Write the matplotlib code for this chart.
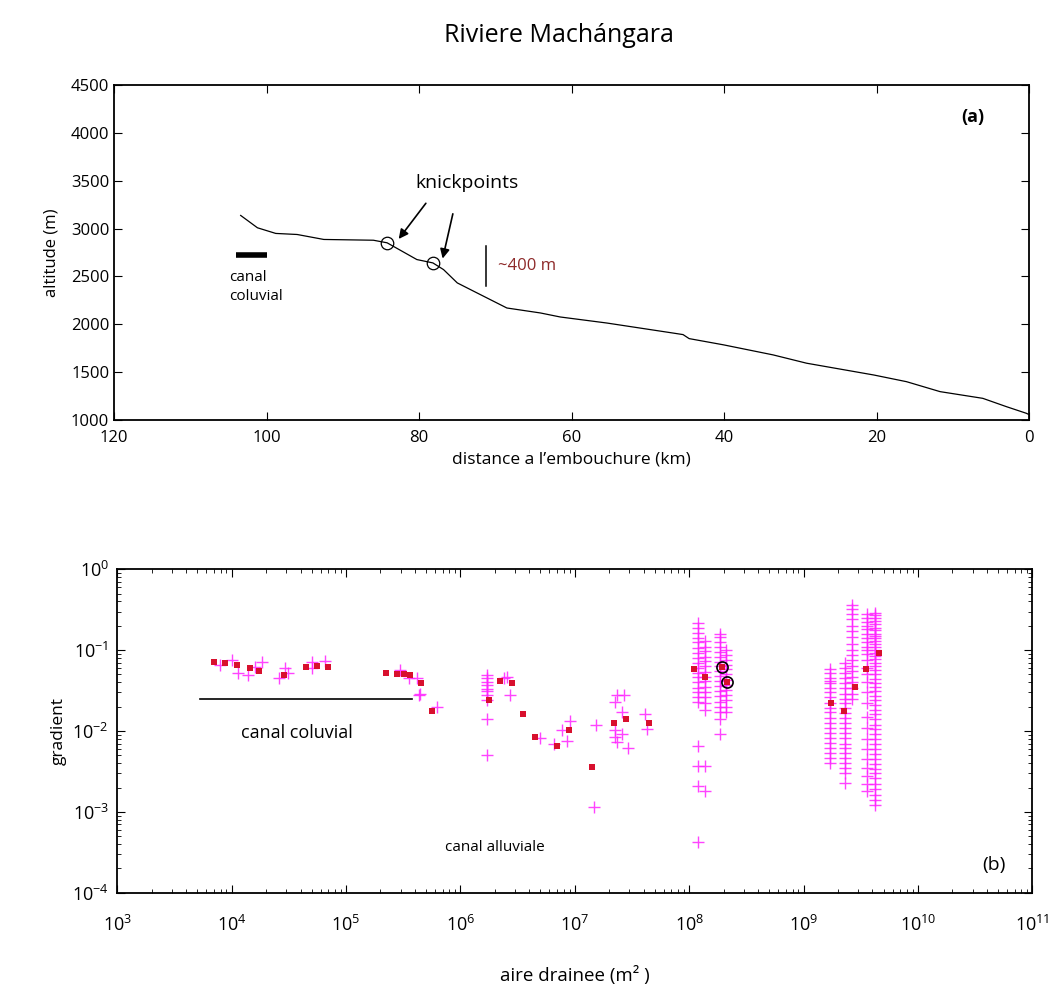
import numpy as np
import matplotlib.pyplot as plt

plt.rcParams['font.family'] = ['Open Sans', 'DejaVu Sans']

# ---- (a) long profile ----
profile_km = [103.4, 101.2, 98.8, 96.0, 92.5, 86.0, 84.2, 80.3, 78.2, 76.8, 75.0,
              72.4, 68.5, 64.1, 61.5, 55.4, 46.7, 45.4, 44.6, 40.1, 33.6, 29.2,
              20.4, 16.1, 11.7, 6.1, 3.0, 0.4, 0.0]
profile_alt = [3137, 3008, 2949, 2938, 2886, 2878, 2851, 2676, 2641, 2571, 2432,
               2327, 2170, 2118, 2076, 2013, 1908, 1892, 1850, 1785, 1680, 1593,
               1470, 1400, 1296, 1226, 1139, 1070, 1055]
knick_km = [84.2, 78.2]
knick_alt = [2851, 2641]

# ---- (b) slope-area ----
# binned means (red squares)
mean_area = [7.05e3, 8.8e3, 1.11e4, 1.44e4, 1.75e4, 2.84e4, 4.49e4, 5.56e4, 6.89e4,
             2.24e5, 2.79e5, 3.18e5, 3.59e5, 4.52e5, 5.69e5, 1.76e6, 2.23e6, 2.82e6,
             3.52e6, 4.45e6, 6.97e6, 8.81e6, 1.41e7, 2.22e7, 2.81e7, 4.41e7,
             1.11e8, 1.38e8, 1.93e8, 2.14e8, 1.74e9, 2.26e9, 2.82e9, 3.52e9, 4.52e9]
mean_grad = [0.072, 0.070, 0.0655, 0.0594, 0.0556, 0.0492, 0.0612, 0.0637, 0.0612,
             0.0525, 0.0501, 0.0501, 0.0492, 0.0387, 0.0179, 0.0240, 0.0414, 0.0394,
             0.0164, 0.0085, 0.0065, 0.0102, 0.0036, 0.0126, 0.0142, 0.0126,
             0.0583, 0.0469, 0.0624, 0.0406, 0.0223, 0.0177, 0.0345, 0.0583, 0.0931]

# scattered raw points (magenta crosses), small areas
raw_area = [7.9e3, 1.0e4, 1.13e4, 1.38e4, 1.61e4, 1.84e4, 2.57e4, 2.94e4, 3.08e4,
            5.0e4, 5.0e4, 6.6e4, 2.98e5, 3.52e5, 4.17e5, 4.4e5, 4.3e5, 6.2e5,
            1.71e6, 1.71e6, 1.71e6, 1.71e6, 1.71e6, 1.71e6, 1.71e6, 1.71e6, 1.71e6, 1.71e6,
            2.4e6, 2.55e6, 2.72e6, 5.0e6, 6.6e6, 7.7e6, 8.5e6, 9.1e6, 1.53e7, 1.46e7,
            2.33e7, 2.67e7, 2.58e7, 2.25e7, 2.25e7, 2.33e7, 2.58e7, 2.9e7, 2.25e7,
            4.1e7, 4.3e7]
raw_grad = [0.0654, 0.0755, 0.0515, 0.0492, 0.0624, 0.0720, 0.0447, 0.0594, 0.0515,
            0.0594, 0.0720, 0.0735, 0.0567, 0.0447, 0.0447, 0.0290, 0.0277, 0.0200,
            0.0492, 0.0447, 0.0406, 0.0369, 0.0335, 0.0316, 0.0277, 0.0240, 0.0142, 0.0050,
            0.0447, 0.0469, 0.0277, 0.0083, 0.0070, 0.0102, 0.0075, 0.0132, 0.0120, 0.00114,
            0.0277, 0.0277, 0.0172, 0.0102, 0.0084, 0.0073, 0.0093, 0.0062, 0.0229,
            0.0160, 0.0107]

# dense columns near 1e8 and 1e9 m2
col_area = [1.2e8, 1.38e8, 1.87e8, 2.1e8, 1.71e9, 2.31e9, 2.64e9, 3.6e9, 4.2e9]
col_grad = [
    [0.215, 0.19, 0.165, 0.14, 0.125, 0.105, 0.092, 0.08, 0.07, 0.06, 0.052, 0.046,
     0.04, 0.034, 0.03, 0.026, 0.023, 0.0066, 0.0037, 0.0021, 0.00042],
    [0.13, 0.11, 0.097, 0.083, 0.073, 0.063, 0.054, 0.047, 0.041, 0.035, 0.03, 0.026,
     0.022, 0.018, 0.0037, 0.0018],
    [0.16, 0.145, 0.125, 0.11, 0.095, 0.083, 0.072, 0.063, 0.055, 0.048, 0.042, 0.036,
     0.031, 0.027, 0.023, 0.02, 0.017, 0.014, 0.0093],
    [0.1, 0.088, 0.076, 0.066, 0.058, 0.05, 0.043, 0.037, 0.032, 0.028, 0.024, 0.02, 0.017],
    [0.059, 0.041, 0.052, 0.045, 0.039, 0.034, 0.030, 0.026, 0.022, 0.019, 0.017, 0.0145,
     0.0125, 0.011, 0.0095, 0.0082, 0.0071, 0.0062, 0.0054, 0.0047, 0.0040],
    [0.069, 0.060, 0.052, 0.045, 0.039, 0.034, 0.029, 0.025, 0.022, 0.019, 0.0165, 0.0143,
     0.0124, 0.0108, 0.0094, 0.0081, 0.0070, 0.0061, 0.0053, 0.0046, 0.0040, 0.0035,
     0.0030, 0.0023],
    [0.36, 0.32, 0.28, 0.24, 0.20, 0.17, 0.145, 0.12, 0.10, 0.087, 0.075, 0.064, 0.055,
     0.047, 0.040, 0.034, 0.029, 0.025],
    [0.28, 0.25, 0.22, 0.20, 0.18, 0.16, 0.14, 0.125, 0.11, 0.10, 0.09, 0.075, 0.06, 0.05,
     0.04, 0.03, 0.022, 0.015, 0.011, 0.008, 0.006, 0.0045, 0.0035, 0.0028, 0.0022, 0.0018],
    [0.29, 0.27, 0.25, 0.23, 0.21, 0.19, 0.175, 0.16, 0.15, 0.14, 0.13, 0.12, 0.11, 0.10,
     0.092, 0.085, 0.078, 0.070, 0.063, 0.057, 0.050, 0.044, 0.039, 0.035, 0.031, 0.027,
     0.024, 0.021, 0.018, 0.016, 0.014, 0.012, 0.0105, 0.0092, 0.0080, 0.0070, 0.0060,
     0.0052, 0.0045, 0.0039, 0.0034, 0.0030, 0.0026, 0.0022, 0.0019, 0.0016, 0.0014,
     0.0012],
]
knick_area = [1.93e8, 2.14e8]
knick_grad = [0.0624, 0.0406]

fig = plt.figure(figsize=(10.64, 9.94), dpi=100)
fig.text(0.525, 0.964, 'Riviere Machángara', ha='center', va='center', fontsize=18)

# ---------- top panel ----------
ax1 = fig.add_axes([0.1072, 0.5775, 0.8602, 0.3370])
ax1.plot(profile_km, profile_alt, color='k', lw=0.9)
ax1.plot(knick_km, knick_alt, 'o', mfc='none', mec='k', ms=9, mew=0.9)
ax1.set_xlim(120, 0)
ax1.set_ylim(1000, 4500)
ax1.set_xticks(np.arange(0, 121, 20))
ax1.set_yticks(np.arange(1000, 4501, 500))
ax1.tick_params(direction='in', top=True, right=True, length=6, labelsize=12)
ax1.tick_params(axis='x', pad=7)
ax1.set_xlabel('distance a l’embouchure (km)', fontsize=12.5, labelpad=4)
ax1.set_ylabel('altitude (m)', fontsize=12, labelpad=8)
for s in ax1.spines.values():
    s.set_linewidth(1.3)

ax1.text(73.7, 3480, 'knickpoints', ha='center', va='center', fontsize=14)
ax1.annotate('', xy=(82.9, 2868), xytext=(78.9, 3287),
             arrowprops=dict(arrowstyle='-|>', color='k', lw=1.2, mutation_scale=14))
ax1.annotate('', xy=(77.0, 2658), xytext=(75.5, 3182),
             arrowprops=dict(arrowstyle='-|>', color='k', lw=1.2, mutation_scale=14))
ax1.plot([71.3, 71.3], [2397, 2816], color='k', lw=1.1)
ax1.text(69.6, 2610, '~400 m', color='#8e2a2a', ha='left', va='center', fontsize=12)
ax1.plot([104.0, 99.9], [2721, 2721], color='k', lw=4, solid_capstyle='butt')
ax1.text(104.9, 2390, 'canal\ncoluvial', ha='left', va='center', fontsize=11,
         linespacing=1.3)
ax1.text(7.4, 4165, '(a)', ha='center', va='center', fontsize=13, fontweight='bold')

# ---------- bottom panel ----------
ax2 = fig.add_axes([0.1102, 0.1019, 0.8601, 0.3254])
ax2.set_xscale('log')
ax2.set_yscale('log')
ax2.plot(raw_area, raw_grad, '+', color='#ff22ff', ms=9, mew=1.0, alpha=0.85)
for a, g in zip(col_area, col_grad):
    ax2.plot(np.full(len(g), a), g, '+', color='#ff22ff', ms=9, mew=1.0, alpha=0.85)
ax2.plot(mean_area, mean_grad, 's', color='#d8102e', ms=5, mew=0)
ax2.plot(knick_area, knick_grad, 'o', mfc='none', mec='k', ms=8, mew=1.2)
ax2.plot([5.3e3, 3.77e5], [0.0248, 0.0248], color='k', lw=1.2)
ax2.text(3.7e4, 0.0095, 'canal coluvial', ha='center', va='center', fontsize=13)
ax2.text(2.0e6, 3.6e-4, 'canal alluviale', ha='center', va='center', fontsize=11)
ax2.text(4.6e10, 2.2e-4, '(b)', ha='center', va='center', fontsize=14)
ax2.set_xlim(1e3, 1e11)
ax2.set_ylim(1e-4, 1e0)
ax2.set_xticks([10.0 ** k for k in range(3, 12)])
ax2.set_yticks([10.0 ** k for k in range(-4, 1)])
ax2.tick_params(which='both', direction='in', top=True, right=True, labelsize=13)
ax2.tick_params(which='major', length=6)
ax2.tick_params(which='minor', length=3)
ax2.tick_params(axis='x', which='major', pad=16)
ax2.tick_params(axis='y', which='major', pad=6)
ax2.set_xlabel('aire drainee (m² )', fontsize=13.5, labelpad=22, fontweight='medium')
ax2.set_ylabel('gradient', fontsize=12.5, labelpad=4)
for s in ax2.spines.values():
    s.set_linewidth(1.3)

fig.savefig('out.png', dpi=100)
